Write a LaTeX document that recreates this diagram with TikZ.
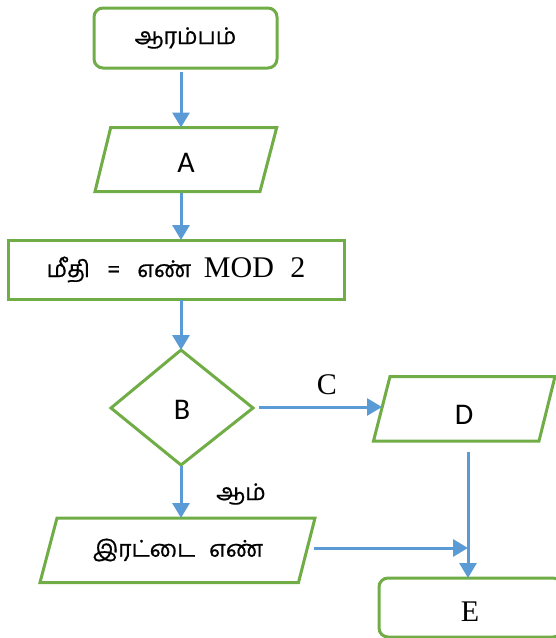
\documentclass[tikz,border=0pt]{standalone}
\usepackage{fontspec}
\setmainfont{Liberation Serif}
\newfontfamily\tamfont[Script=Tamil,FakeBold=0.7]{Hind Madurai}
\newfontfamily\calfont{Carlito}
\usetikzlibrary{arrows.meta}
\definecolor{fgreen}{HTML}{70AD47}
\definecolor{fblue}{HTML}{5B9BD5}
\begin{document}
\begin{tikzpicture}[x=1pt,y=-1pt,
  shapeline/.style={draw=fgreen,line width=3pt,line join=miter},
  conn/.style={draw=fblue,line width=3pt},
  arr/.style={conn,-{Triangle[width=17pt,length=15pt]}},
  tam/.style={font=\tamfont\fontsize{23}{27}\selectfont},
  cal/.style={font=\calfont\fontsize{30}{34}\selectfont},
  ser/.style={font=\fontsize{30}{34}\selectfont},
  roundbox/.style={shapeline,rounded corners=9pt,inner sep=0pt}]
\useasboundingbox (0,0) rectangle (556,638);
% start
\node[roundbox,minimum width=183pt,minimum height=60pt,tam] (start) at (185.5,38) {ஆரம்பம்};
\coordinate (startout) at (181,72);
% parallelogram A
\coordinate (a1) at (95,191.5); \coordinate (a2) at (110.7,127.5);
\coordinate (a3) at (276.7,127.5); \coordinate (a4) at (260,191.5);
\draw[shapeline] (a1) -- (a2) -- (a3) -- (a4) -- cycle;
\node[cal] (A) at (186,163) {A};
\coordinate (Ain) at (181,127.5); \coordinate (Aout) at (181,193);
% rectangle
\node[shapeline,minimum width=336pt,minimum height=59pt,inner sep=0pt] (mod) at (176,269.5)
  {\tamfont\fontsize{23}{27}\selectfont மீதி\hspace{0.75em}=\hspace{0.75em}எண்\hspace{0.55em}\fontspec{Liberation Serif}\fontsize{30}{34}\selectfont MOD\hspace{0.55em}2};
\coordinate (modin) at (181,240); \coordinate (modout) at (181,300);
% diamond
\coordinate (dt) at (181,350); \coordinate (dl) at (111,408);
\coordinate (dr) at (253,408); \coordinate (db) at (181,465);
\draw[shapeline] (dt) -- (dr) -- (db) -- (dl) -- cycle;
\node[cal] (B) at (182,410) {B};
\coordinate (Bright) at (259,407); \coordinate (Bdown) at (181,466);
% parallelogram D
\coordinate (d1) at (373.5,441); \coordinate (d2) at (390,376.5);
\coordinate (d3) at (555,376.5); \coordinate (d4) at (539,441);
\draw[shapeline] (d1) -- (d2) -- (d3) -- (d4) -- cycle;
\node[cal] (D) at (464,415) {D};
\coordinate (Din) at (382,407); \coordinate (Dout) at (468,452);
\node[ser] (C) at (327,385) {C};
% parallelogram even
\coordinate (e1) at (40,582.5); \coordinate (e2) at (57,518);
\coordinate (e3) at (315,518); \coordinate (e4) at (298.5,582.5);
\draw[shapeline] (e1) -- (e2) -- (e3) -- (e4) -- cycle;
\node[tam] (even) at (178,550) {இரட்டை\hspace{0.6em}எண்};
\coordinate (evenin) at (181,518); \coordinate (evenout) at (314,548);
\node[tam] (yes) at (241,494) {ஆம்};
% end
\node[roundbox,minimum width=183pt,minimum height=59pt] (endbox) at (470.5,607.5) {};
\node[ser] (E) at (470,612) {E};
\coordinate (Ein) at (468,578); \coordinate (join) at (468,548);
% connectors
\draw[arr] (startout) -- (Ain);
\draw[arr] (Aout) -- (modin);
\draw[arr] (modout) -- (dt);
\draw[arr] (Bright) -- (Din);
\draw[arr] (Bdown) -- (evenin);
\draw[arr] (Dout) -- (Ein);
\draw[arr] (evenout) -- (join);
\end{tikzpicture}
\end{document}
